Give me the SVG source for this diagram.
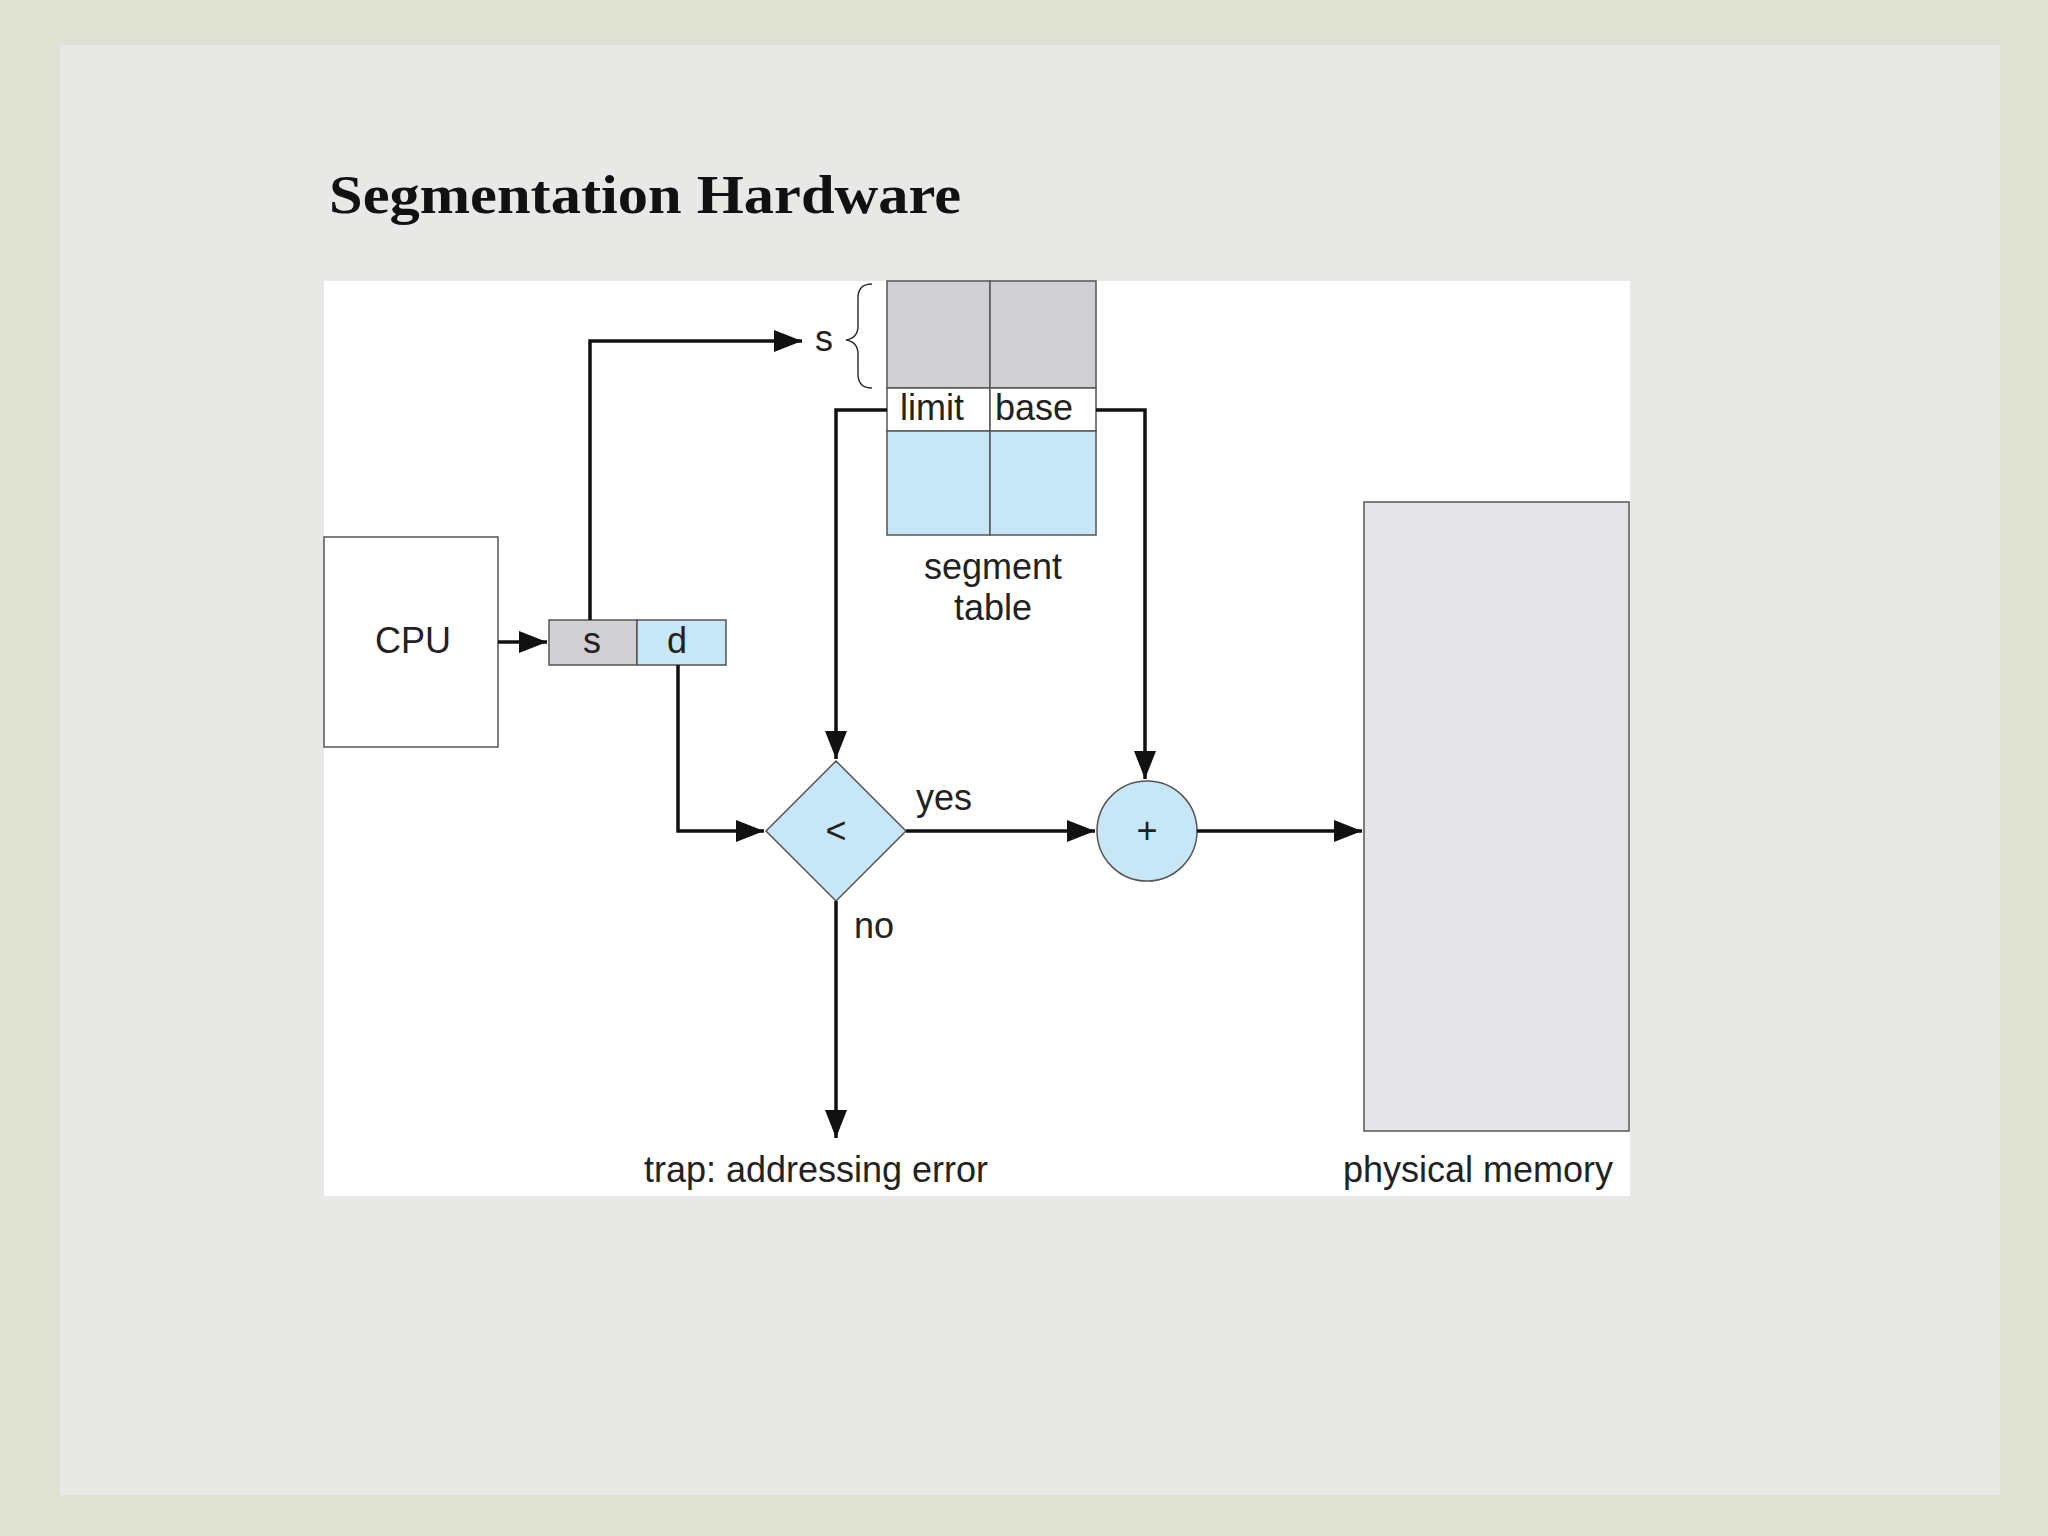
<svg xmlns="http://www.w3.org/2000/svg" width="2048" height="1536" viewBox="0 0 2048 1536">
<defs>
<marker id="a" viewBox="0 0 10 10" refX="10" refY="5" markerWidth="28" markerHeight="22" markerUnits="userSpaceOnUse" orient="auto" preserveAspectRatio="none"><path d="M0,0 L10,5 L0,10 z" fill="#111"/></marker>
<style>
.t{font-family:"Liberation Sans",Arial,sans-serif;font-size:36px;fill:#222}
.c{fill:none;stroke:#111;stroke-width:3.5}
.b{stroke:#555;stroke-width:1.5}
</style>
</defs>
<rect width="2048" height="1536" fill="#dfe1d3"/>
<rect x="60" y="45" width="1940" height="1450" fill="#e8e8e7"/>
<text x="329" y="213" font-family="'Liberation Serif','Times New Roman',serif" font-weight="bold" font-size="54" fill="#111" textLength="632" lengthAdjust="spacingAndGlyphs">Segmentation Hardware</text>
<rect x="324" y="281" width="1306" height="915" fill="#fff"/>
<g id="cpu"><rect x="324" y="537" width="174" height="210" fill="#fff" class="b"/><text class="t" x="413" y="653" text-anchor="middle">CPU</text></g>
<g id="addr"><rect x="549" y="620" width="88" height="45" fill="#d0d0d4" class="b"/><rect x="637" y="620" width="89" height="45" fill="#c7e7f7" class="b"/>
<text class="t" x="592" y="653" text-anchor="middle">s</text><text class="t" x="677" y="653" text-anchor="middle">d</text></g>
<g id="segtable">
<rect x="887" y="281" width="103" height="107" fill="#d0d0d4" class="b"/><rect x="990" y="281" width="106" height="107" fill="#d0d0d4" class="b"/>
<rect x="887" y="388" width="103" height="43" fill="#fff" class="b"/><rect x="990" y="388" width="106" height="43" fill="#fff" class="b"/>
<rect x="887" y="431" width="103" height="104" fill="#c7e7f7" class="b"/><rect x="990" y="431" width="106" height="104" fill="#c7e7f7" class="b"/>
<text class="t" x="932" y="420" text-anchor="middle">limit</text><text class="t" x="1034" y="420" text-anchor="middle">base</text>
<text class="t" x="993" y="579" text-anchor="middle">segment</text><text class="t" x="993" y="620" text-anchor="middle">table</text>
<path d="M872,284 Q858,284 858,298 L858,326 Q858,338 846,340 Q858,342 858,354 L858,374 Q858,388 872,388" fill="none" stroke="#333" stroke-width="1.5"/>
<text class="t" x="824" y="351" text-anchor="middle">s</text></g>
<g id="compare"><polygon points="836,761 906,831 836,901 766,831" fill="#c7e7f7" class="b"/><text class="t" x="836" y="843" text-anchor="middle">&lt;</text></g>
<g id="adder"><circle cx="1147" cy="831" r="50" fill="#c7e7f7" class="b"/><text class="t" x="1147" y="843" text-anchor="middle">+</text></g>
<g id="memory"><rect x="1364" y="502" width="265" height="629" fill="#e5e5e7" class="b"/><text class="t" x="1478" y="1182" text-anchor="middle">physical memory</text></g>
<g id="trap"><text class="t" x="816" y="1182" text-anchor="middle">trap: addressing error</text></g>
<g id="connectors">
<path class="c" d="M498,642 H547" marker-end="url(#a)"/>
<path class="c" d="M590,620 V341 H802" marker-end="url(#a)"/>
<path class="c" d="M887,410 H836 V759" marker-end="url(#a)"/>
<path class="c" d="M1096,410 H1145 V779" marker-end="url(#a)"/>
<path class="c" d="M678,665 V831 H764" marker-end="url(#a)"/>
<path class="c" d="M906,831 H1095" marker-end="url(#a)"/>
<path class="c" d="M1197,831 H1362" marker-end="url(#a)"/>
<path class="c" d="M836,901 V1138" marker-end="url(#a)"/>
<text class="t" x="944" y="810" text-anchor="middle">yes</text>
<text class="t" x="874" y="938" text-anchor="middle">no</text>
</g>
</svg>
